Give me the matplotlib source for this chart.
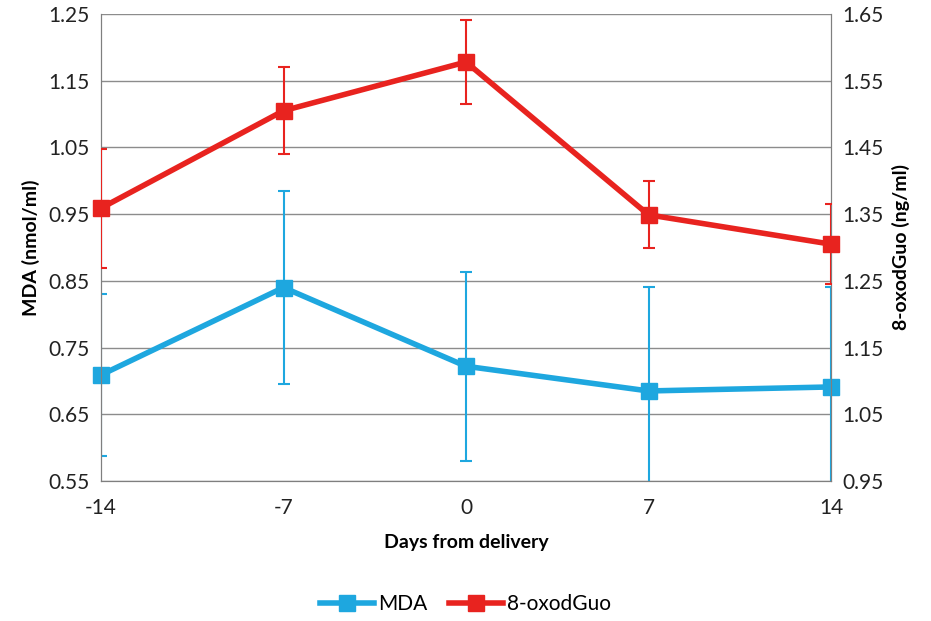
import numpy as np
import matplotlib.pyplot as plt

plt.rcParams['font.family'] = ['Lato', 'DejaVu Sans']
plt.rcParams['axes.unicode_minus'] = False

days = [-14, -7, 0, 7, 14]
mda = [0.709, 0.840, 0.722, 0.685, 0.691]
mda_err = [0.121, 0.145, 0.142, 0.156, 0.150]
oxo = [1.359, 1.505, 1.578, 1.349, 1.305]
oxo_err = [0.089, 0.065, 0.063, 0.050, 0.060]

left_ticks = [0.55, 0.65, 0.75, 0.85, 0.95, 1.05, 1.15, 1.25]
right_ticks = [0.95, 1.05, 1.15, 1.25, 1.35, 1.45, 1.55, 1.65]

blue = '#1ea7df'
red = '#e8231f'
grid_c = '#8c8c8c'

fig = plt.figure(figsize=(9.31, 6.21), dpi=100)
ax = fig.add_axes([0.1085, 0.2254, 0.7841, 0.7521])
ax2 = ax.twinx()

# error bars stay clipped to the plot area, markers do not
ax.errorbar(days, mda, yerr=mda_err, fmt='none', elinewidth=1.5, capsize=4,
            capthick=1.5, ecolor=blue, zorder=3)
l1, = ax.plot(days, mda, color=blue, lw=4, marker='s', ms=12, zorder=4, clip_on=False)
ax2.errorbar(days, oxo, yerr=oxo_err, fmt='none', elinewidth=1.5, capsize=4,
             capthick=1.5, ecolor=red, zorder=3)
l2, = ax2.plot(days, oxo, color=red, lw=4, marker='s', ms=12, zorder=4, clip_on=False)

ax.set_xlim(-14, 14)
ax.set_ylim(0.55, 1.25)
ax2.set_ylim(0.95, 1.65)
ax.set_xticks(days)
ax.set_yticks(left_ticks)
ax.set_yticklabels(['%.2f' % v for v in left_ticks])
ax2.set_yticks(right_ticks)
ax2.set_yticklabels(['%.2f' % v for v in right_ticks])

ax.grid(axis='y', color=grid_c, lw=1)
ax.set_axisbelow(True)
for a in (ax, ax2):
    a.tick_params(length=0, labelsize=15, colors='#222222', pad=8)
    for s in a.spines.values():
        s.set_color('#7f7f7f')
    a.spines['top'].set_visible(False)
ax.tick_params(axis='x', pad=12)

ax.set_xlabel('Days from delivery', fontsize=14, fontweight='bold', labelpad=12)
ax.set_ylabel('MDA (nmol/ml)', fontsize=14, fontweight='bold', labelpad=6)
ax2.set_ylabel('8-oxodGuo (ng/ml)', fontsize=14, fontweight='bold', labelpad=6)

fig.legend([l1, l2], ['MDA', '8-oxodGuo'], loc='center', bbox_to_anchor=(0.5, 0.027),
           ncol=2, frameon=False, fontsize=15, handlelength=2.6, columnspacing=1.0,
           handletextpad=0.2)

plt.savefig('out.png', dpi=100)
